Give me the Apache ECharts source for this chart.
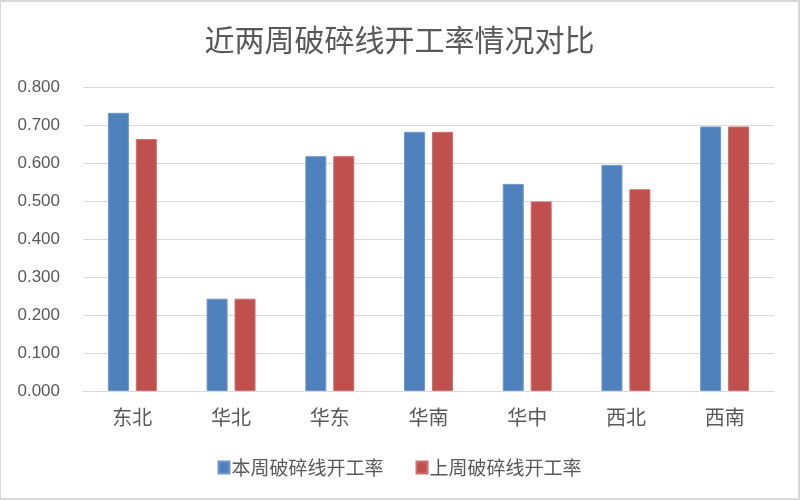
<!DOCTYPE html>
<html>
<head>
<meta charset="utf-8">
<script src="https://cdn.jsdelivr.net/npm/echarts@6/dist/echarts.min.js"></script>
<style>
html,body{margin:0;padding:0;background:#fff;}
#c{width:797px;height:496px;border-left:1px solid #d9d9d9;border-right:2px solid #d9d9d9;border-top:2px solid #d9d9d9;border-bottom:2px solid #d9d9d9;box-sizing:content-box;}
</style>
</head>
<body>
<div id="c"></div>
<script>
const categories = ['东北', '华北', '华东', '华南', '华中', '西北', '西南'];
const thisWeek = [0.732, 0.243, 0.618, 0.682, 0.545, 0.595, 0.696];
const lastWeek = [0.663, 0.243, 0.618, 0.682, 0.499, 0.531, 0.696];
const seriesNames = ['本周破碎线开工率', '上周破碎线开工率'];

const font = '"Noto Sans CJK SC", "Microsoft YaHei", sans-serif';
const chart = echarts.init(document.getElementById('c'));
chart.setOption({
  animation: false,
  title: {
    text: '近两周破碎线开工率情况对比',
    left: 'center', top: 18,
    textStyle: {fontFamily: font, fontSize: 30, fontWeight: 'normal', color: '#595959'}
  },
  legend: {
    bottom: 16, left: 'center',
    itemWidth: 11, itemHeight: 12, itemGap: 32,
    icon: 'rect',
    textStyle: {fontFamily: font, fontSize: 19, color: '#595959', padding: [0, 0, 0, -3]},
    data: seriesNames
  },
  grid: {left: 82, right: 24, top: 85, bottom: 107},
  xAxis: {
    type: 'category', data: categories,
    axisLine: {lineStyle: {color: '#d9d9d9', width: 1}},
    axisTick: {show: false},
    axisLabel: {fontFamily: font, fontSize: 20, color: '#595959', margin: 16}
  },
  yAxis: {
    type: 'value', min: 0, max: 0.8, interval: 0.1,
    axisLine: {show: false}, axisTick: {show: false},
    splitLine: {lineStyle: {color: '#d9d9d9', width: 1}},
    axisLabel: {fontFamily: 'Liberation Sans, Arial, sans-serif', fontSize: 17, color: '#595959', margin: 23,
      formatter: v => v.toFixed(3)}
  },
  series: [
    {name: seriesNames[0], type: 'bar', data: thisWeek, barWidth: 21, barGap: '33%',
     itemStyle: {color: '#4F81BD', borderColor: '#6f97c9', borderWidth: 1}},
    {name: seriesNames[1], type: 'bar', data: lastWeek, barWidth: 21, barGap: '33%',
     itemStyle: {color: '#C0504D', borderColor: '#cd6f6c', borderWidth: 1}}
  ]
});
</script>
</body>
</html>
